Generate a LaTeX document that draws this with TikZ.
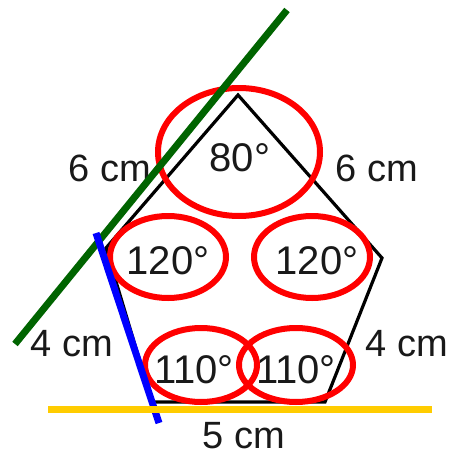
\documentclass[tikz,border=0pt]{standalone}
\usepackage{fontspec}
\setmainfont{Liberation Sans}
\definecolor{ringred}{HTML}{FF0000}
\definecolor{lgreen}{HTML}{006400}
\definecolor{lblue}{HTML}{0000FF}
\definecolor{lyellow}{HTML}{FFCC00}
\begin{document}
\begin{tikzpicture}[x=1pt,y=-1pt,
  edge/.style={draw=black,line width=3.2pt,line join=miter},
  lenlbl/.style={inner sep=0pt,font=\fontsize{38}{40}\selectfont,text=black!90},
  anglbl/.style={inner sep=0pt,font=\fontsize{40}{42}\selectfont,text=black!90},
  ring/.style={draw=ringred,line width=6pt},
  guide/.style={line width=7pt}]
\useasboundingbox[fill=white] (0,0) rectangle (455,455);
% pentagon vertices
\coordinate (T) at (238,95);
\coordinate (R) at (382,258);
\coordinate (BR) at (325,402);
\coordinate (BL) at (152,402);
\coordinate (L) at (106,248);
\draw[edge] (T) -- (R) -- (BR) -- (BL) -- (L) -- cycle;
% labels
\node[lenlbl] (l6a) at (110,168.5) {6 cm};
\node[lenlbl] (l6b) at (377,168.5) {6 cm};
\node[lenlbl] (l4a) at (72,344) {4 cm};
\node[lenlbl] (l4b) at (407,344) {4 cm};
\node[lenlbl] (l5) at (244,436) {5 cm};
\node[anglbl] (a80) at (240,158) {80°};
\node[anglbl] (a120l) at (168,260.5) {120°};
\node[anglbl] (a120r) at (317,260.5) {120°};
\node[anglbl] (a110l) at (194,370) {110°};
\node[anglbl] (a110r) at (296,370) {110°};
% red rings
\draw[ring] (239,152) ellipse (81 and 64);
\draw[ring] (168,257) ellipse (58 and 41);
\draw[ring] (312,257) ellipse (58 and 41);
\draw[ring] (201,365) ellipse (56 and 37);
\draw[ring] (296,365) ellipse (57 and 37);
% guide lines
\coordinate (g1) at (15,344);
\coordinate (g2) at (287,10);
\draw[guide,draw=lgreen] (g1) -- (g2);
\coordinate (b1) at (96,233);
\coordinate (b2) at (159,423);
\draw[guide,draw=lblue] (b1) -- (b2);
\coordinate (y1) at (48,409);
\coordinate (y2) at (432,409);
\draw[guide,draw=lyellow] (y1) -- (y2);
\end{tikzpicture}
\end{document}
